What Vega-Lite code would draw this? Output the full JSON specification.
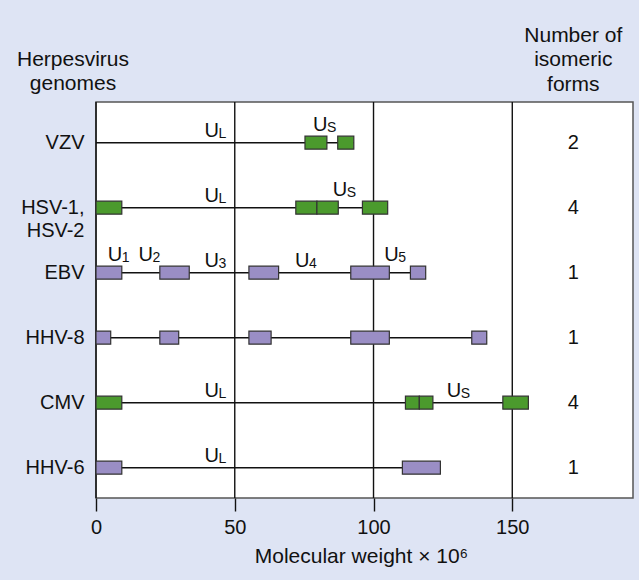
{
  "$schema": "https://vega.github.io/schema/vega-lite/v6.json",
  "width": 537,
  "height": 396,
  "autosize": {"type": "none"},
  "padding": {"left": 96, "top": 102, "right": 6, "bottom": 82},
  "background": "#dee4f4",
  "config": {"view": {"stroke": "#555555", "strokeWidth": 1.5, "fill": "white"}, "font": "Liberation Sans"},
  "title": {
    "text": ["Number of", "isomeric", "forms"],
    "orient": "top", "anchor": "end", "frame": "group", "align": "center",
    "baseline": "alphabetic", "offset": 0, "dx": -59.7, "dy": 63,
    "fontSize": 21, "fontWeight": "normal", "lineHeight": 24.2, "color": "#111111"
  },
  "datasets": {
    "genomes": [
      {"genome": "VZV", "start": 0, "end": 92.9, "forms": 2},
      {"genome": "HSV-1, HSV-2", "start": 0, "end": 105.1, "forms": 4},
      {"genome": "EBV", "start": 0, "end": 118.8, "forms": 1},
      {"genome": "HHV-8", "start": 0, "end": 140.8, "forms": 1},
      {"genome": "CMV", "start": 0, "end": 155.8, "forms": 4},
      {"genome": "HHV-6", "start": 0, "end": 124.1, "forms": 1}
    ],
    "segments": [
      {"genome": "VZV", "start": 75.3, "end": 83.2, "inverting": "yes"},
      {"genome": "VZV", "start": 87.1, "end": 92.9, "inverting": "yes"},
      {"genome": "HSV-1, HSV-2", "start": 0, "end": 9.3, "inverting": "yes"},
      {"genome": "HSV-1, HSV-2", "start": 72.0, "end": 79.6, "inverting": "yes"},
      {"genome": "HSV-1, HSV-2", "start": 79.6, "end": 87.3, "inverting": "yes"},
      {"genome": "HSV-1, HSV-2", "start": 96.0, "end": 105.1, "inverting": "yes"},
      {"genome": "EBV", "start": 0, "end": 9.3, "inverting": "no"},
      {"genome": "EBV", "start": 23.0, "end": 33.6, "inverting": "no"},
      {"genome": "EBV", "start": 55.1, "end": 65.8, "inverting": "no"},
      {"genome": "EBV", "start": 91.8, "end": 105.7, "inverting": "no"},
      {"genome": "EBV", "start": 113.3, "end": 118.8, "inverting": "no"},
      {"genome": "HHV-8", "start": 0, "end": 5.3, "inverting": "no"},
      {"genome": "HHV-8", "start": 23.0, "end": 29.8, "inverting": "no"},
      {"genome": "HHV-8", "start": 55.1, "end": 63.1, "inverting": "no"},
      {"genome": "HHV-8", "start": 91.8, "end": 105.7, "inverting": "no"},
      {"genome": "HHV-8", "start": 135.4, "end": 140.8, "inverting": "no"},
      {"genome": "CMV", "start": 0, "end": 9.3, "inverting": "yes"},
      {"genome": "CMV", "start": 111.5, "end": 116.5, "inverting": "yes"},
      {"genome": "CMV", "start": 116.5, "end": 121.4, "inverting": "yes"},
      {"genome": "CMV", "start": 146.6, "end": 155.8, "inverting": "yes"},
      {"genome": "HHV-6", "start": 0, "end": 9.3, "inverting": "no"},
      {"genome": "HHV-6", "start": 110.4, "end": 124.1, "inverting": "no"}
    ],
    "labels": [
      {"genome": "VZV", "x": 39.1, "base": "U", "sub": "L", "over": "line"},
      {"genome": "VZV", "x": 78.2, "base": "U", "sub": "S", "over": "box"},
      {"genome": "HSV-1, HSV-2", "x": 39.1, "base": "U", "sub": "L", "over": "line"},
      {"genome": "HSV-1, HSV-2", "x": 85.3, "base": "U", "sub": "S", "over": "box"},
      {"genome": "EBV", "x": 4.2, "base": "U", "sub": "1", "over": "box"},
      {"genome": "EBV", "x": 15.3, "base": "U", "sub": "2", "over": "box"},
      {"genome": "EBV", "x": 39.1, "base": "U", "sub": "3", "over": "line"},
      {"genome": "EBV", "x": 71.7, "base": "U", "sub": "4", "over": "line"},
      {"genome": "EBV", "x": 103.9, "base": "U", "sub": "5", "over": "box"},
      {"genome": "CMV", "x": 39.1, "base": "U", "sub": "L", "over": "line"},
      {"genome": "CMV", "x": 126.4, "base": "U", "sub": "S", "over": "line"},
      {"genome": "HHV-6", "x": 39.1, "base": "U", "sub": "L", "over": "line"}
    ],
    "ticks": [{"v": 0}, {"v": 50}, {"v": 100}, {"v": 150}]
  },
  "layer": [
    {
      "data": {"name": "ticks"},
      "mark": {"type": "rule", "color": "#111111", "strokeWidth": 1.4},
      "encoding": {
        "x": {
          "field": "v", "type": "quantitative",
          "scale": {"domain": [0, 193.5], "nice": false, "zero": false},
          "axis": {
            "orient": "bottom", "values": [0, 50, 100, 150], "format": "d",
            "grid": false, "domain": false, "labelFlush": false,
            "tickColor": "#111111", "tickSize": 13, "tickWidth": 1.4,
            "labelFontSize": 20, "labelColor": "#111111", "labelPadding": 6,
            "title": "Molecular weight × 10⁶", "titleFontSize": 21, "titleFontWeight": "normal",
            "titleColor": "#111111", "titleX": 265, "titleY": 64.7,
            "titleAlign": "center", "titleBaseline": "alphabetic"
          }
        }
      }
    },
    {
      "data": {"name": "genomes"},
      "mark": {"type": "rule", "color": "#111111", "strokeWidth": 1.5},
      "encoding": {
        "x": {"field": "start", "type": "quantitative"},
        "x2": {"field": "end"},
        "y": {
          "field": "genome", "type": "nominal",
          "scale": {"type": "point", "domain": ["VZV", "HSV-1, HSV-2", "EBV", "HHV-8", "CMV", "HHV-6"], "padding": 0.546, "align": 0.573},
          "axis": {
            "orient": "left", "domain": false, "ticks": false, "grid": false,
            "labelPadding": 12, "labelFontSize": 20, "labelColor": "#111111",
            "labelExpr": "split(datum.label, ' ')", "labelLineHeight": 23,
            "title": ["Herpesvirus", "genomes"], "titleAngle": 0, "titleAlign": "center",
            "titleBaseline": "alphabetic", "titleX": -23.5, "titleY": -36.3,
            "titleFontSize": 21, "titleFontWeight": "normal", "titleLineHeight": 24,
            "titleColor": "#111111"
          }
        }
      }
    },
    {
      "data": {"name": "segments"},
      "mark": {"type": "bar", "size": 13, "stroke": "#333333", "strokeWidth": 1.2},
      "encoding": {
        "x": {"field": "start", "type": "quantitative"},
        "x2": {"field": "end"},
        "y": {"field": "genome", "type": "nominal"},
        "fill": {"field": "inverting", "type": "nominal", "scale": {"domain": ["yes", "no"], "range": ["#4b9a2d", "#9a8ec5"]}, "legend": null}
      }
    },
    {
      "data": {"name": "labels"},
      "transform": [{"filter": "datum.over == 'line'"}],
      "mark": {"type": "text", "align": "left", "baseline": "alphabetic", "fontSize": 20, "dy": -6, "color": "#111111"},
      "encoding": {
        "x": {"field": "x", "type": "quantitative"},
        "y": {"field": "genome", "type": "nominal"},
        "text": {"field": "base"}
      }
    },
    {
      "data": {"name": "labels"},
      "transform": [{"filter": "datum.over == 'line'"}],
      "mark": {"type": "text", "align": "left", "baseline": "alphabetic", "fontSize": 14, "dx": 14, "dy": -4.5, "color": "#111111"},
      "encoding": {
        "x": {"field": "x", "type": "quantitative"},
        "y": {"field": "genome", "type": "nominal"},
        "text": {"field": "sub"}
      }
    },
    {
      "data": {"name": "labels"},
      "transform": [{"filter": "datum.over == 'box'"}],
      "mark": {"type": "text", "align": "left", "baseline": "alphabetic", "fontSize": 20, "dy": -12, "color": "#111111"},
      "encoding": {
        "x": {"field": "x", "type": "quantitative"},
        "y": {"field": "genome", "type": "nominal"},
        "text": {"field": "base"}
      }
    },
    {
      "data": {"name": "labels"},
      "transform": [{"filter": "datum.over == 'box'"}],
      "mark": {"type": "text", "align": "left", "baseline": "alphabetic", "fontSize": 14, "dx": 14, "dy": -10.5, "color": "#111111"},
      "encoding": {
        "x": {"field": "x", "type": "quantitative"},
        "y": {"field": "genome", "type": "nominal"},
        "text": {"field": "sub"}
      }
    },
    {
      "data": {"name": "genomes"},
      "mark": {"type": "text", "fontSize": 20, "align": "center", "baseline": "middle", "color": "#111111"},
      "encoding": {
        "x": {"datum": 172, "type": "quantitative"},
        "y": {"field": "genome", "type": "nominal"},
        "text": {"field": "forms"}
      }
    }
  ]
}
